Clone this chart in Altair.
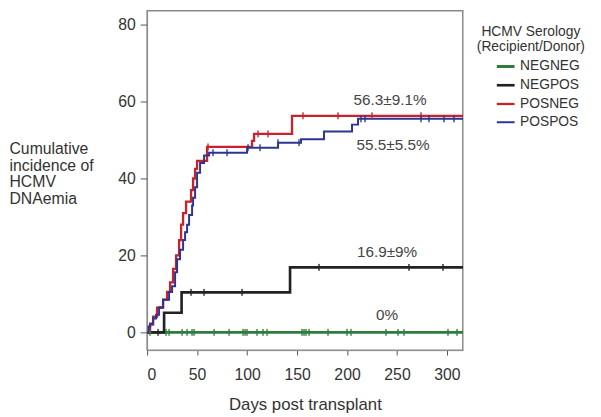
import altair as alt
import pandas as pd

FONT = "Liberation Sans"
TXT = "#333333"

groups = ["NEGNEG", "NEGPOS", "POSNEG", "POSPOS"]
colors = ["#2e7d3e", "#222222", "#c8232c", "#2c3592"]
widths = [3.0, 2.0, 2.0, 3.0]

# cumulative incidence step curves (day, %)
negneg_days = [0, 316]
negneg_vals = [0, 0]

negpos_days = [0, 17, 34.5, 143, 316]
negpos_vals = [0, 5.1, 10.4, 16.9, 16.9]

posneg_days = [0, 3, 6, 10, 16, 20, 23, 26, 29, 32, 34, 36, 39, 44, 46, 48, 50, 60, 105, 107, 145, 316]
posneg_vals = [0, 2.0, 4.1, 6.4, 8.5, 10.5, 13.0, 16.5, 20.0, 24.0, 28.0, 31.0, 34.0, 37.0, 40.0,
               42.5, 44.6, 48.2, 49.8, 51.6, 56.3, 56.3]

pospos_days = [0, 1.5, 3, 6, 9, 12, 16, 22, 25, 28, 30, 33, 36, 38, 40, 42, 45, 46, 48, 50, 53,
               57, 62, 100, 131, 154, 177, 205, 211, 316]
pospos_vals = [0, 1.5, 2.3, 3.6, 4.6, 6.5, 8.5, 10.5, 12.0, 15.6, 19.0, 21.5, 24.0, 26.0, 28.0,
               30.5, 33.0, 35.0, 37.7, 41.5, 44.0, 46.0, 46.7, 48.0, 49.3, 50.2, 52.2, 54.0, 55.5, 55.5]

# censoring times (days)
negneg_cens = [3, 19, 22, 35, 40, 45, 47, 67, 82, 96, 98, 100, 110, 116, 120, 155, 157, 159, 162,
               181, 200, 204, 239, 251, 257, 301, 310]
negpos_cens = [11, 44, 57, 95, 172, 262, 296]
posneg_cens = [61, 111, 121, 156, 191, 225, 274]
pospos_cens = [66, 80, 101, 113, 131, 152, 214, 218, 274, 282, 297, 307]

# annotations
ann_text = ["56.3\u00b19.1%", "55.5\u00b15.5%", "16.9\u00b19%", "0%"]
ann_day = [243, 246, 240, 240]
ann_val = [60.3, 48.7, 20.8, 4.4]

series = [
    ("NEGNEG", negneg_days, negneg_vals, negneg_cens),
    ("NEGPOS", negpos_days, negpos_vals, negpos_cens),
    ("POSNEG", posneg_days, posneg_vals, posneg_cens),
    ("POSPOS", pospos_days, pospos_vals, pospos_cens),
]


def level_at(days, vals, t):
    v = vals[0]
    for d, val in zip(days, vals):
        if d <= t:
            v = val
    return v


line_rows, cens_rows = [], []
for g, days, vals, cens in series:
    for d, v in zip(days, vals):
        line_rows.append({"group": g, "day": d, "value": v})
    for c in cens:
        cens_rows.append({"group": g, "day": c, "value": level_at(days, vals, c)})
line_df = pd.DataFrame(line_rows)
cens_df = pd.DataFrame(cens_rows)
ann_df = pd.DataFrame({"day": ann_day, "value": ann_val, "text": ann_text})

xscale = alt.Scale(domain=[0, 315.8], nice=False, zero=False)
yscale = alt.Scale(domain=[-4.615, 83.6], nice=False, zero=False)
cscale = alt.Scale(domain=groups, range=colors)

x_axis = alt.Axis(values=[0, 50, 100, 150, 200, 250, 300], grid=False, title="Days post transplant",
                  labelFontSize=16, titleFontSize=17, titleFontWeight="normal", labelColor=TXT,
                  titleColor=TXT, tickSize=5, labelPadding=12, titlePadding=14, domainColor="#8a8a8a",
                  tickColor="#555555", labelFont=FONT, titleFont=FONT)
y_axis = alt.Axis(values=[0, 20, 40, 60, 80], grid=False,
                  title=["Cumulative", "incidence of", "HCMV", "DNAemia"],
                  titleAngle=0, titleAlign="left", titleBaseline="top", titleX=-140, titleY=132,
                  titleFontSize=16, titleFontWeight="normal", titleLineHeight=16.7, titleColor=TXT,
                  labelFontSize=16, labelColor=TXT, tickSize=7, labelPadding=5,
                  domainColor="#8a8a8a", tickColor="#555555", labelFont=FONT, titleFont=FONT)

lines = alt.Chart(line_df).mark_line(interpolate="step-after").encode(
    x=alt.X("day:Q", scale=xscale, axis=x_axis),
    y=alt.Y("value:Q", scale=yscale, axis=y_axis),
    color=alt.Color("group:N", scale=cscale,
                    legend=alt.Legend(title=None, orient="none", legendX=353, legendY=46,
                                      symbolType="stroke", symbolSize=324, symbolStrokeWidth=3,
                                      labelFontSize=14, labelColor=TXT, labelFont=FONT,
                                      rowPadding=1, padding=0, labelOffset=4)),
    strokeWidth=alt.StrokeWidth("group:N", scale=alt.Scale(domain=groups, range=widths), legend=None),
    detail="group:N",
)

ticks = alt.Chart(cens_df).mark_tick(orient="vertical", size=7, thickness=2).encode(
    x=alt.X("day:Q", scale=xscale),
    y=alt.Y("value:Q", scale=yscale),
    color=alt.Color("group:N", scale=cscale, legend=None),
)

ann = alt.Chart(ann_df).mark_text(fontSize=15.5, color="#444444", font=FONT, baseline="middle").encode(
    x=alt.X("day:Q", scale=xscale),
    y=alt.Y("value:Q", scale=yscale),
    text="text:N",
)

legend_title = alt.Chart(pd.DataFrame({"k": [0]})).mark_text(
    text=["HCMV Serology", "(Recipient/Donor)"], fontSize=14, lineHeight=15, color=TXT, font=FONT,
    align="center", baseline="top"
).encode(x=alt.value(389), y=alt.value(15))

chart = alt.layer(lines, ticks, ann, legend_title).properties(
    width=320, height=344,
    autosize=alt.AutoSizeParams(type="none"),
    padding={"left": 141, "top": 0, "right": 132, "bottom": 65},
).configure_view(stroke="#8a8a8a", strokeWidth=1.5)

chart.save("out.html", embed_options={"renderer": "svg", "actions": False})
